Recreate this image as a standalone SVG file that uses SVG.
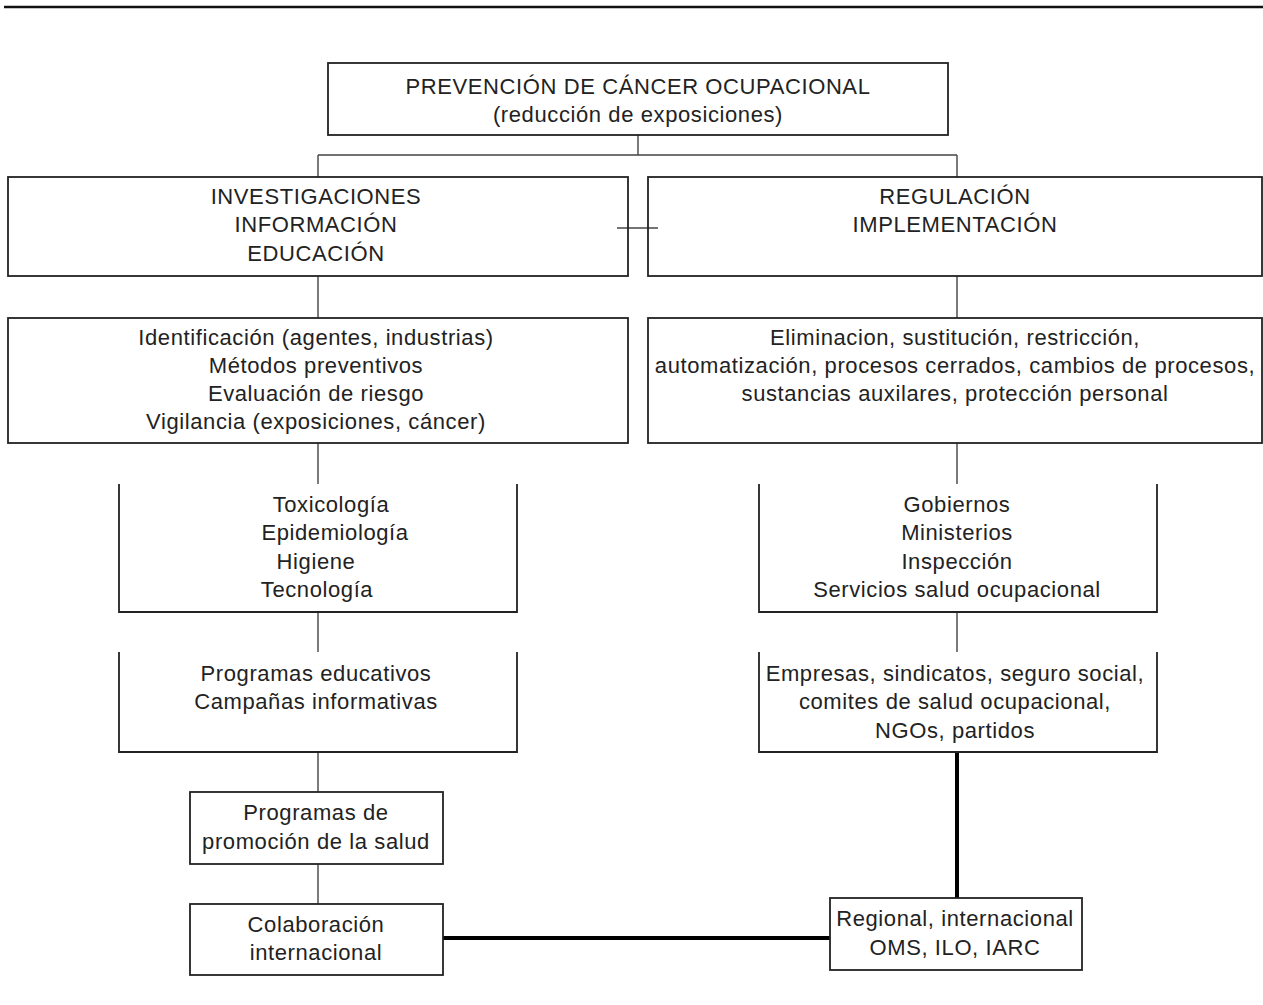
<svg xmlns="http://www.w3.org/2000/svg" width="1263" height="1005" viewBox="0 0 1263 1005">
<style>
.box{fill:none;stroke:#222;stroke-width:1.8}
.open{fill:none;stroke:#222;stroke-width:1.8}
.ln{fill:none;stroke:#444;stroke-width:1.4}
.thick{fill:none;stroke:#000;stroke-width:4}
text{font-family:"Liberation Sans",Arial,sans-serif;font-size:22px;fill:#222;text-anchor:middle;letter-spacing:0.6px}
</style>
<rect width="1263" height="1005" fill="#fff"/>
<line x1="4" y1="7" x2="1263" y2="7" stroke="#111" stroke-width="2.5"/>
<g id="connectors">
<path class="ln" d="M638 135 V155 M318 155 H957 M318 155 V177 M957 155 V177"/>
<path class="ln" d="M617 228 H658"/>
<path class="ln" d="M318 276 V318 M957 276 V318"/>
<path class="ln" d="M318 443 V484 M957 443 V484"/>
<path class="ln" d="M318 612 V652 M957 612 V652"/>
<path class="ln" d="M318 752 V792 M318 864 V904"/>
<path class="thick" d="M957 752 V898"/>
<path class="thick" d="M443 938 H830"/>
</g>
<g id="n-root">
<rect class="box" x="328" y="63" width="620" height="72"/>
<text x="638" y="94">PREVENCIÓN DE CÁNCER OCUPACIONAL</text>
<text x="638" y="122">(reducción de exposiciones)</text>
</g>
<g id="n-inv">
<rect class="box" x="8" y="177" width="620" height="99"/>
<text x="316" y="204">INVESTIGACIONES</text>
<text x="316" y="232">INFORMACIÓN</text>
<text x="316" y="261">EDUCACIÓN</text>
</g>
<g id="n-reg">
<rect class="box" x="648" y="177" width="614" height="99"/>
<text x="955" y="204">REGULACIÓN</text>
<text x="955" y="232">IMPLEMENTACIÓN</text>
</g>
<g id="n-ident">
<rect class="box" x="8" y="318" width="620" height="125"/>
<text x="316" y="345">Identificación (agentes, industrias)</text>
<text x="316" y="373">Métodos preventivos</text>
<text x="316" y="401">Evaluación de riesgo</text>
<text x="316" y="429">Vigilancia (exposiciones, cáncer)</text>
</g>
<g id="n-elim">
<rect class="box" x="648" y="318" width="614" height="125"/>
<text x="955" y="345">Eliminacion, sustitución, restricción,</text>
<text x="955" y="373">automatización, procesos cerrados, cambios de procesos,</text>
<text x="955" y="401">sustancias auxilares, protección personal</text>
</g>
<g id="n-tox">
<path class="open" d="M119 484 V612 H517 V484"/>
<text x="331" y="512">Toxicología</text>
<text x="335" y="540">Epidemiología</text>
<text x="316" y="569">Higiene</text>
<text x="317" y="597">Tecnología</text>
</g>
<g id="n-gob">
<path class="open" d="M759 484 V612 H1157 V484"/>
<text x="957" y="512">Gobiernos</text>
<text x="957" y="540">Ministerios</text>
<text x="957" y="569">Inspección</text>
<text x="957" y="597">Servicios salud ocupacional</text>
</g>
<g id="n-prog">
<path class="open" d="M119 652 V752 H517 V652"/>
<text x="316" y="681">Programas educativos</text>
<text x="316" y="709">Campañas informativas</text>
</g>
<g id="n-emp">
<path class="open" d="M759 652 V752 H1157 V652"/>
<text x="955" y="681">Empresas, sindicatos, seguro social,</text>
<text x="955" y="709">comites de salud ocupacional,</text>
<text x="955" y="738">NGOs, partidos</text>
</g>
<g id="n-promo">
<rect class="box" x="190" y="792" width="253" height="72"/>
<text x="316" y="820">Programas de</text>
<text x="316" y="849">promoción de la salud</text>
</g>
<g id="n-colab">
<rect class="box" x="190" y="904" width="253" height="71"/>
<text x="316" y="932">Colaboración</text>
<text x="316" y="960">internacional</text>
</g>
<g id="n-regional">
<rect class="box" x="830" y="898" width="252" height="72"/>
<text x="955" y="926">Regional, internacional</text>
<text x="955" y="955">OMS, ILO, IARC</text>
</g>
</svg>
